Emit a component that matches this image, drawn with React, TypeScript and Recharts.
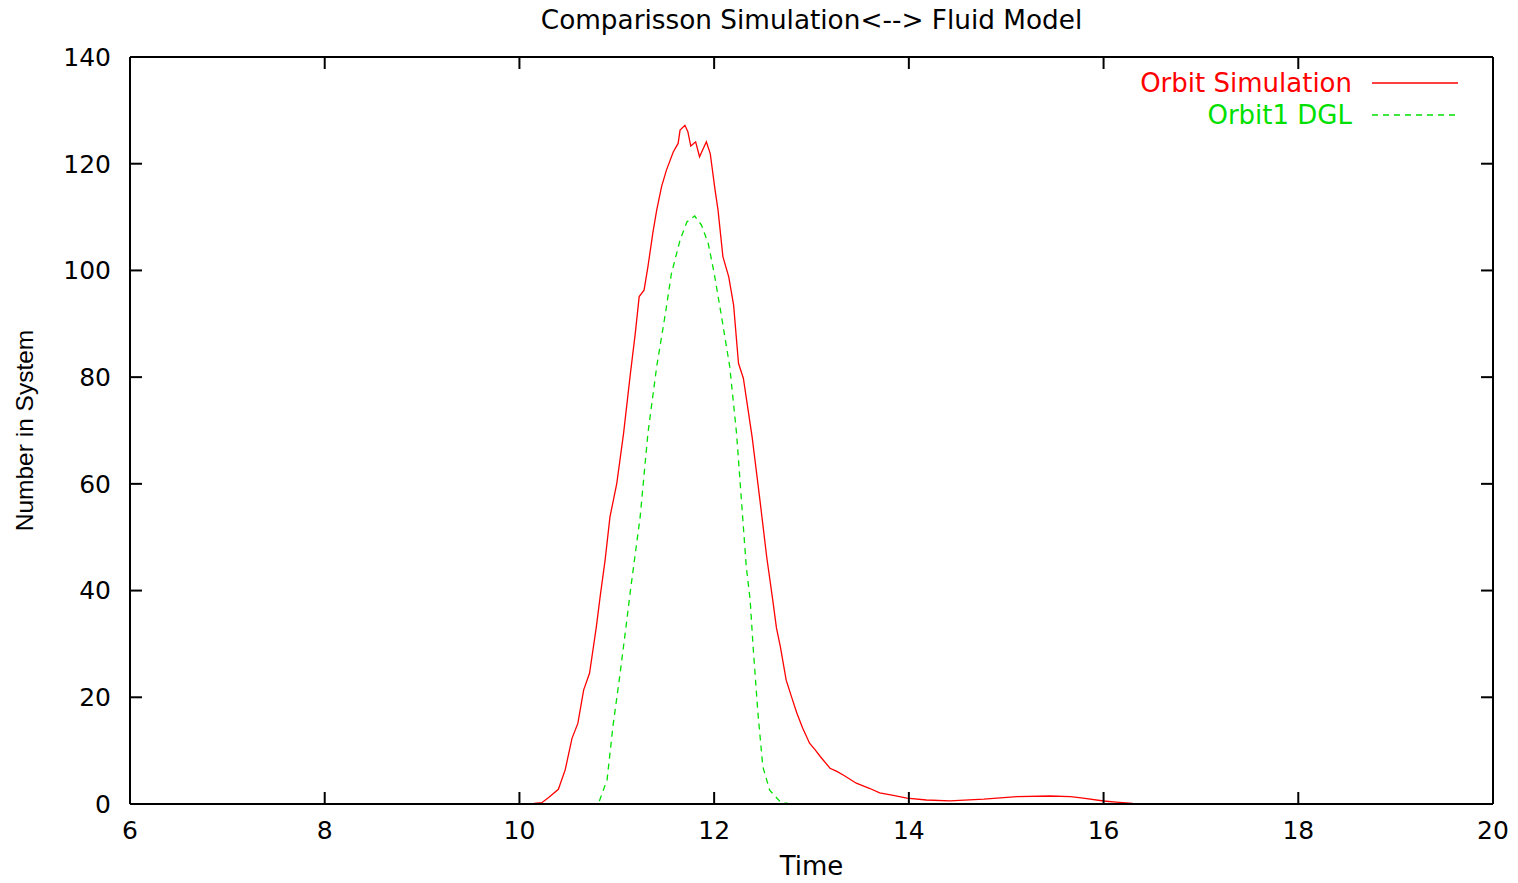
import { LineChart, Line, XAxis, YAxis, Legend } from "recharts";

// Orbit simulation (noisy)
const simTime = [
  7.0, 10.0, 10.15, 10.23, 10.3, 10.4, 10.47, 10.54, 10.6, 10.66, 10.72, 10.79,
  10.83, 10.88, 10.93, 11.0, 11.07, 11.14, 11.19, 11.23, 11.28, 11.32, 11.37,
  11.41, 11.46, 11.51, 11.58, 11.63, 11.65, 11.7, 11.73, 11.76, 11.81, 11.85,
  11.92, 11.96, 12.01, 12.04, 12.09, 12.15, 12.2, 12.25, 12.3, 12.39, 12.47,
  12.54, 12.6, 12.64, 12.68, 12.74, 12.8, 12.85, 12.91, 12.98, 13.04, 13.09,
  13.19, 13.26, 13.33, 13.46, 13.6, 13.7, 13.84, 13.98, 14.18, 14.42, 14.77,
  15.11, 15.45, 15.66, 15.79, 16.0, 16.13, 16.3, 16.45, 20.0,
];
const simCount = [
  0, 0, 0.1, 0.25, 1.2, 2.75, 6.4, 12.3, 15.1, 21.4, 24.5, 33.2,
  39, 45.7, 53.8, 60.1, 69.5, 80.7, 88.2, 95.1, 96.3, 100.7, 107,
  111.3, 115.7, 118.8, 122.2, 123.8, 126.3, 127.2, 126, 123.3, 124.1, 121.3,
  124.1, 121.9, 115, 111.3, 102.6, 98.8, 93.5, 82.6, 79.8, 68.8, 57,
  46.3, 38.5, 33, 29.5, 23.2, 19.8, 17, 14.2, 11.4, 10.1, 8.9,
  6.7, 6.1, 5.4, 3.9, 2.9, 2.1, 1.6, 1.1, 0.75, 0.6, 0.9,
  1.4, 1.5, 1.4, 1.1, 0.56, 0.37, 0.12, 0, 0,
];

// fluid model (DGL)
const dglTime = [
  7.0, 10.81, 10.9, 10.96, 11.03, 11.1, 11.14, 11.24, 11.32, 11.41, 11.5,
  11.56, 11.65, 11.72, 11.8, 11.87, 11.94, 12.0, 12.07, 12.16, 12.23, 12.28,
  12.33, 12.37, 12.4, 12.45, 12.5, 12.57, 12.68, 12.78, 20.0,
];
const dglCount = [
  0, 0, 4.5, 14.5, 23.9, 34, 40, 53.8, 69.5, 82, 92,
  99.3, 105.7, 109.1, 110.2, 108.5, 105, 99.5, 92, 82, 69.5, 57,
  44.5, 38.2, 29.5, 17, 7, 2.6, 0.4, 0, 0,
];

const xTicks = [6, 8, 10, 12, 14, 16, 18, 20];
const yTicks = [0, 20, 40, 60, 80, 100, 120, 140];

const simData = simTime.map((t, i) => ({ time: t, value: simCount[i] }));
const dglData = dglTime.map((t, i) => ({ time: t, value: dglCount[i] }));

const RED = "#ff0000";
const GREEN = "#00e000";
const DASH = "6 5";
const FONT = "'DejaVu Sans', sans-serif";
const TICK_LEN = 12;

const frame = { stroke: "#000", strokeWidth: 2 };

// gnuplot style: tick marks point into the plot
function BottomTick(props: any) {
  const { x, y, payload, tickMargin } = props;
  const axisY = y - tickMargin;
  return (
    <g>
      <line x1={x} x2={x} y1={axisY} y2={axisY - TICK_LEN} stroke="#000" strokeWidth={2} />
      <text x={x} y={y} dy="0.71em" textAnchor="middle" fill="#000" fontSize={25} fontFamily={FONT}>
        {payload.value}
      </text>
    </g>
  );
}

function LeftTick(props: any) {
  const { x, y, payload, tickMargin } = props;
  const axisX = x + tickMargin;
  return (
    <g>
      <line x1={axisX} x2={axisX + TICK_LEN} y1={y} y2={y} stroke="#000" strokeWidth={2} />
      <text x={x} y={y} dy="0.355em" textAnchor="end" fill="#000" fontSize={25} fontFamily={FONT}>
        {payload.value}
      </text>
    </g>
  );
}

function TopTick(props: any) {
  const { x, y } = props;
  return <line x1={x} x2={x} y1={y} y2={y + TICK_LEN} stroke="#000" strokeWidth={2} />;
}

function RightTick(props: any) {
  const { x, y } = props;
  return <line x1={x} x2={x - TICK_LEN} y1={y} y2={y} stroke="#000" strokeWidth={2} />;
}

const legendItems = [
  { name: "Orbit Simulation", color: RED, dash: undefined },
  { name: "Orbit1 DGL", color: GREEN, dash: DASH },
];

function LegendBox() {
  return (
    <div style={{ fontFamily: FONT, fontSize: 26 }}>
      {legendItems.map((it) => (
        <div key={it.name} style={{ display: "flex", alignItems: "center", height: 32 }}>
          <span style={{ width: 252, textAlign: "right", color: it.color, lineHeight: "32px" }}>
            {it.name}
          </span>
          <svg width={106} height={32}>
            <line x1={20} x2={106} y1={16} y2={16} stroke={it.color} strokeWidth={1.3} strokeDasharray={it.dash} />
          </svg>
        </div>
      ))}
    </div>
  );
}

export default function App() {
  return (
    <div style={{ position: "absolute", left: 0, top: 0, width: 1518, height: 883, background: "#fff" }}>
      <LineChart width={1518} height={883} margin={{ top: 56, right: 24, bottom: 0, left: 0 }}>
        <XAxis
          dataKey="time"
          type="number"
          domain={[6, 20]}
          ticks={xTicks}
          allowDataOverflow
          height={79}
          axisLine={frame}
          tickLine={false}
          tickSize={0}
          tickMargin={17}
          tick={<BottomTick tickMargin={17} />}
          label={{ value: "Time", position: "insideBottom", offset: 8, fill: "#000", fontSize: 26, fontFamily: FONT }}
        />
        <XAxis
          xAxisId="top"
          orientation="top"
          dataKey="time"
          type="number"
          domain={[6, 20]}
          ticks={xTicks}
          allowDataOverflow
          interval={0}
          height={1}
          axisLine={frame}
          tickLine={false}
          tickSize={0}
          tickMargin={0}
          tick={<TopTick />}
          label={{
            value: "Comparisson Simulation<--> Fluid Model",
            position: "top",
            offset: 27,
            fill: "#000",
            fontSize: 26.3,
            fontFamily: FONT,
          }}
        />
        <YAxis
          type="number"
          domain={[0, 140]}
          ticks={yTicks}
          allowDataOverflow
          width={130}
          axisLine={frame}
          tickLine={false}
          tickSize={0}
          tickMargin={19}
          tick={<LeftTick tickMargin={19} />}
          label={{
            value: "Number in System",
            angle: -90,
            position: "insideLeft",
            offset: 24,
            fill: "#000",
            fontSize: 24.5,
            fontFamily: "'Liberation Sans', Arial, sans-serif",
            style: { textAnchor: "middle" },
          }}
        />
        <YAxis
          yAxisId="right"
          orientation="right"
          type="number"
          domain={[0, 140]}
          ticks={yTicks}
          allowDataOverflow
          interval={0}
          width={1}
          axisLine={frame}
          tickLine={false}
          tickSize={0}
          tickMargin={0}
          tick={<RightTick />}
        />
        <Legend
          layout="horizontal"
          verticalAlign="middle"
          align="center"
          content={() => <LegendBox />}
          wrapperStyle={{ top: 67, left: 1100, width: 370, height: 64 }}
        />
        <Line
          data={simData}
          dataKey="value"
          name="Orbit Simulation"
          type="linear"
          stroke={RED}
          strokeWidth={1.3}
          dot={false}
          activeDot={false}
          isAnimationActive={false}
        />
        <Line
          data={dglData}
          dataKey="value"
          name="Orbit1 DGL"
          type="linear"
          stroke={GREEN}
          strokeWidth={1.3}
          strokeDasharray={DASH}
          dot={false}
          activeDot={false}
          isAnimationActive={false}
        />
      </LineChart>
    </div>
  );
}
